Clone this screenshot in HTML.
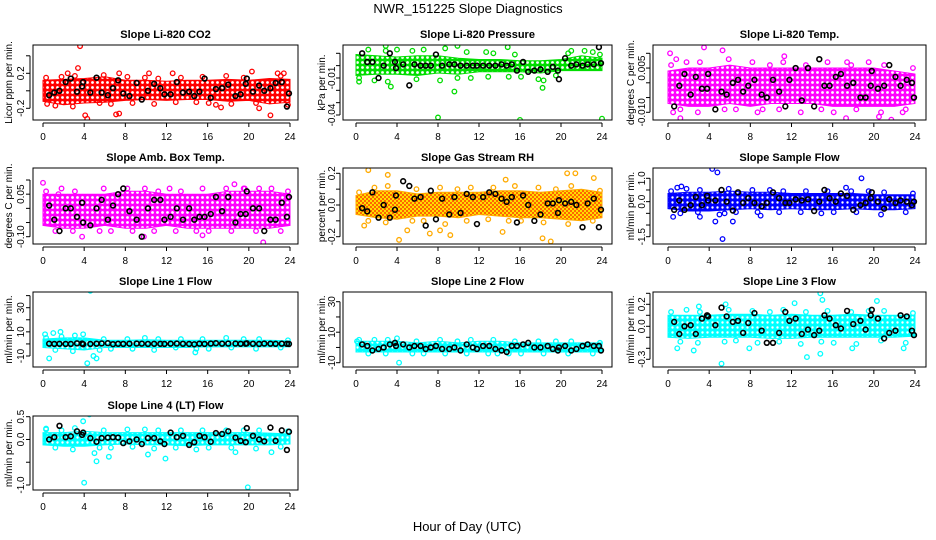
<!DOCTYPE html>
<html><head><meta charset="utf-8"><title>NWR_151225 Slope Diagnostics</title>
<style>
html,body{margin:0;padding:0;background:#fff;}
svg{display:block;font-family:"Liberation Sans",Arial,sans-serif;}
</style></head>
<body>
<svg id="chart" width="936" height="540" viewBox="0 0 936 540" xmlns="http://www.w3.org/2000/svg">
<defs>
<pattern id="pat-red" width="5" height="5" patternUnits="userSpaceOnUse"><rect width="5" height="5" fill="#ff0000"/><circle cx="2.5" cy="2.5" r="1.4" fill="#fff"/></pattern>
<pattern id="pat-green" width="5" height="5" patternUnits="userSpaceOnUse"><rect width="5" height="5" fill="#00dd00"/><circle cx="2.5" cy="2.5" r="1.4" fill="#fff"/></pattern>
<pattern id="pat-magenta" width="5" height="5" patternUnits="userSpaceOnUse"><rect width="5" height="5" fill="#ff00ff"/><circle cx="2.5" cy="2.5" r="1.4" fill="#fff"/></pattern>
<pattern id="pat-orange" width="4" height="4" patternUnits="userSpaceOnUse"><rect width="4" height="4" fill="#ffdd00"/><rect x="0" y="0" width="2" height="2" fill="#ff6600"/><rect x="2" y="2" width="2" height="2" fill="#ff6600"/></pattern>
<pattern id="pat-blue" width="5" height="5" patternUnits="userSpaceOnUse"><rect width="5" height="5" fill="#0000ff"/><circle cx="2.5" cy="2.5" r="1.2" fill="#fff"/></pattern>
<pattern id="pat-cyan" width="5" height="5" patternUnits="userSpaceOnUse"><rect width="5" height="5" fill="#00ffff"/><circle cx="2.5" cy="2.5" r="1.2" fill="#fff"/></pattern>
</defs>
<text x="468" y="13" text-anchor="middle" font-size="13">NWR_151225  Slope Diagnostics</text>
<text x="467" y="531" text-anchor="middle" font-size="13">Hour of Day (UTC)</text>
</svg>
<script>
// shared
const xTicks = [0,4,8,12,16,20,24];
const bandHours = [0,2,4,6,8,10,12,14,16,18,20,22,24];
const edgeHours = [0.3,1.2,1.8,2.9,3.1,5.5,5.9,6.6,8.2,8.7,9.9,10.8,11.2,12.9,13.4,14.9,15.5,16.1,17.8,18.3,19.5,20.7,21.0,23.1,23.8];
const blackHours = [0.6,1.1,1.6,2.2,2.7,3.3,3.8,3.9,4.6,5.2,5.7,6.3,6.8,7.3,7.8,8.4,9.1,9.6,10.2,10.8,11.4,11.8,12.4,13.0,13.6,14.2,14.7,15.2,15.7,16.3,16.8,17.4,18.0,18.7,19.2,19.7,19.8,20.4,21.0,21.5,22.1,22.6,23.2,23.7,23.9];

// P1 CO2
const p1Lo = [-0.12,-0.16,-0.14,-0.13,-0.11,-0.1,-0.11,-0.1,-0.1,-0.12,-0.11,-0.15,-0.13];
const p1Hi = [0.12,0.13,0.14,0.16,0.12,0.12,0.11,0.12,0.12,0.13,0.12,0.14,0.13];
const p1Edge = [0.15,-0.17,0.16,-0.18,0.17,-0.14,0.18,-0.15,0.16,-0.14,0.15,-0.15,0.14,-0.13,0.15,-0.13,0.16,-0.14,0.17,-0.15,0.15,-0.14,-0.2,0.17,-0.16];
const p1OutX = [3.6,3.4,4.1,4.3,7.1,7.4,7.4,0.4,12.6,16.8,17.3,20.3,22.1,23.4,2.4,10.3,22.8];
const p1OutY = [0.51,0.26,-0.28,-0.32,-0.27,-0.26,0.2,-0.15,0.2,-0.16,-0.19,0.22,-0.28,0.2,0.2,0.2,0.2];
const p1Black = [-0.05,-0.02,0.0,0.1,0.14,-0.01,0.05,0.1,-0.02,0.15,-0.02,-0.05,0.03,0.12,-0.03,-0.06,0.09,-0.1,0.0,0.08,0.03,-0.04,-0.04,0.1,-0.02,-0.01,-0.06,-0.01,0.14,-0.08,0.02,0.03,0.07,-0.06,-0.04,0.08,0.14,-0.01,0.06,0.0,0.03,0.09,0.1,-0.18,-0.03];
// P2 Pressure
const p2Lo = [-0.008,-0.007,-0.007,-0.008,-0.006,-0.007,-0.005,-0.005,-0.005,-0.006,-0.004,-0.004,-0.004];
const p2Hi = [0.009,0.008,0.007,0.008,0.008,0.006,0.005,0.005,0.004,0.004,0.005,0.008,0.006];
const p2Edge = [-0.01,0.013,-0.012,0.012,-0.013,0.012,-0.011,0.013,-0.012,0.014,-0.01,0.011,-0.01,-0.009,0.01,-0.009,0.009,-0.009,-0.011,-0.012,-0.008,0.01,0.012,0.011,0.009];
const p2OutX = [8,16,24,9.6,2.9,9.9,14.8,3.4,18.2,4.0,0.3,12.7,22.3];
const p2OutY = [-0.042,-0.044,-0.043,-0.021,0.016,0.016,0.015,-0.017,-0.018,0.013,-0.013,0.011,0.012];
const p2Black = [0.01,0.003,0.003,-0.01,0.0,0.01,0.003,-0.002,0.001,-0.016,0.001,0.0,0.0,0.0,0.009,0.0,0.001,0.001,0.0,0.0,0.0,0.0,0.0,0.0,0.0,0.001,0.0,0.001,-0.004,0.003,-0.005,-0.004,-0.003,-0.005,-0.001,-0.004,-0.011,0.006,0.0,0.001,0.0,0.001,0.001,0.015,0.002];
// P3 Li-820 Temp
const p3Lo = [-0.007,-0.008,-0.008,-0.007,-0.008,-0.007,-0.007,-0.007,-0.008,-0.008,-0.008,-0.008,-0.007];
const p3Hi = [0.004,0.005,0.005,0.006,0.005,0.005,0.005,0.005,0.005,0.005,0.005,0.004,0.003];
const p3Edge = [0.006,-0.009,0.007,-0.01,0.007,-0.009,0.008,-0.009,0.007,-0.01,0.006,-0.009,0.007,-0.01,0.006,-0.009,0.007,-0.01,0.006,-0.009,0.007,-0.01,0.006,-0.009,0.005];
const p3OutX = [0.2,3.5,5.3,0.5,1.2,17.3,20.5,21.7,11.3,17.4,22.8,0.8,9.2];
const p3OutY = [0.01,0.012,0.011,-0.01,-0.012,-0.012,-0.0115,-0.0125,0.009,0.007,-0.01,0.008,-0.009];
const p3Black = [-0.008,-0.001,0.003,-0.004,0.002,-0.002,-0.002,0.003,-0.009,-0.003,-0.004,0.0,0.001,-0.003,-0.001,0.001,-0.004,-0.005,0.001,-0.003,-0.008,0.001,0.005,-0.006,0.005,-0.008,0.008,-0.001,-0.001,0.002,0.003,-0.001,0.0,-0.005,-0.005,-0.001,0.004,-0.002,-0.001,0.006,0.002,-0.001,0.001,0.0,-0.005];
// P4 Amb box temp
const p4Lo = [-0.06,-0.07,-0.07,-0.06,-0.07,-0.07,-0.06,-0.07,-0.07,-0.07,-0.07,-0.07,-0.06];
const p4Hi = [0.05,0.05,0.05,0.05,0.06,0.06,0.05,0.05,0.05,0.06,0.06,0.06,0.05];
const p4Edge = [0.06,-0.08,0.07,-0.08,0.06,-0.08,0.07,-0.08,0.07,-0.08,0.07,-0.08,0.06,-0.08,0.06,-0.08,0.07,-0.08,0.07,-0.08,0.07,-0.08,0.07,-0.08,0.06];
const p4OutX = [0,1.5,18.6,21.4,3.8,12.3,22.2,9.8,15.5,19.6];
const p4OutY = [0.09,0.05,0.085,-0.12,-0.1,0.07,0.07,-0.1,-0.095,0.07];
const p4Black = [0.01,-0.04,-0.08,0.0,0.0,-0.03,0.02,-0.05,-0.06,0.0,0.03,-0.04,0.01,0.05,0.07,-0.01,-0.04,-0.1,0.0,0.03,0.03,-0.04,-0.03,0.0,-0.04,0.0,-0.04,-0.03,-0.03,-0.02,0.04,-0.01,0.04,-0.05,-0.02,-0.02,0.06,0.0,0.0,-0.08,-0.04,-0.04,0.02,-0.03,0.04];
// P5 Gas stream RH
const p5Lo = [-0.06,-0.08,-0.09,-0.07,-0.07,-0.08,-0.06,-0.07,-0.08,-0.08,-0.09,-0.1,-0.08];
const p5Hi = [0.06,0.09,0.09,0.07,0.08,0.08,0.08,0.09,0.09,0.08,0.09,0.1,0.08];
const p5Edge = [0.08,-0.1,0.11,-0.11,0.12,-0.1,0.1,-0.1,0.11,-0.12,0.1,-0.1,0.11,-0.09,0.11,-0.1,0.12,-0.1,0.11,-0.11,0.1,-0.12,0.12,-0.1,0.09];
const p5OutX = [1.2,3.1,4.2,5.0,7.2,9.2,8.2,14.3,18.2,19.0,20.6,21.4,23.2,14.6,0.8];
const p5OutY = [0.22,0.19,-0.22,-0.16,-0.18,-0.19,-0.16,-0.17,-0.21,-0.23,0.2,0.2,0.17,0.16,-0.13];
const p5Black = [-0.02,-0.04,0.08,-0.08,0.0,-0.08,-0.03,0.06,0.15,0.12,0.04,0.05,-0.13,0.09,-0.09,0.04,-0.06,0.05,-0.05,0.07,0.05,-0.12,0.05,0.08,0.07,0.04,0.02,0.05,-0.11,0.06,0.0,-0.1,-0.06,0.01,0.01,-0.05,0.03,0.01,0.02,0.0,-0.14,0.01,0.04,-0.14,-0.03];
// P6 Sample flow
const p6Lo = [-0.3,-0.4,-0.4,-0.35,-0.3,-0.35,-0.3,-0.35,-0.35,-0.3,-0.35,-0.35,-0.3];
const p6Hi = [0.35,0.4,0.4,0.45,0.4,0.4,0.35,0.35,0.35,0.35,0.3,0.3,0.3];
const p6Edge = [0.45,-0.5,0.55,-0.45,0.5,-0.5,0.55,-0.45,0.5,-0.45,0.5,-0.45,0.45,-0.45,0.45,-0.5,0.45,-0.45,0.45,-0.45,0.45,-0.55,0.4,-0.45,0.35];
const p6OutX = [4.3,4.8,5.3,18.8,0.5,4.6,6.3,3.1,17.3,1.3,9.0,5.0,0.9];
const p6OutY = [1.4,1.25,-1.6,1.0,-0.65,-0.85,-0.85,-0.65,0.6,0.65,-0.6,-0.55,0.6];
const p6Black = [-0.35,0.05,-0.35,-0.15,0.2,-0.15,0.25,0.05,0.05,0.5,0.0,-0.38,0.4,-0.05,0.15,-0.05,-0.2,-0.05,0.4,0.15,-0.05,-0.05,0.1,0.05,0.1,-0.4,0.0,0.5,0.15,0.0,0.35,0.25,-0.35,-0.15,-0.05,0.15,0.4,0.0,-0.3,0.1,-0.05,0.05,0.0,-0.15,0.0];
// P7 Line 1 flow
const p7Lo = [-3,-4,-5,-3,-3,-3,-3,-3,-2.5,-2.5,-2.5,-2.5,-2.5];
const p7Hi = [4,5,5,3,3,3.5,3,3,3,3,3,3,2.5];
const p7Edge = [5,-5,6,-6,7,-5,4,-4,4,-4,5,-5,4,-3,4,-4,4,-4,5,-3,4,-4,4,-3,3];
const p7OutX = [4.6,0.6,4.3,5.2,1.7,4.9,14.8,0.2,1.0,3.9];
const p7OutY = [44,-12,-16,-12,10,-10,-7,8,9,8];
const p7Black = [0.2,0.0,0.1,0.0,0.0,0.5,0.3,-0.3,0.0,0.2,0.4,0.6,-0.2,0.1,0.0,0.2,0.3,0.2,0.0,0.1,0.1,0.0,0.2,0.3,0.1,0.0,-0.3,0.2,0.0,0.3,0.6,0.2,0.3,0.3,0.1,0.2,0.5,0.1,0.0,0.3,0.2,0.1,0.2,0.1,0.0];
// P8 Line 2 flow
const p8Lo = [-3,-3,-3,-3,-3,-3,-3,-3,-3,-3,-3,-3,-3];
const p8Hi = [4,4,4,3,4,3,4,4,3,3,3,3,3];
const p8Edge = [5,-4,5,-4,5,-4,4,-4,5,-4,4,-4,5,-4,5,-4,4,-4,4,-4,4,-4,4,-4,3];
const p8OutX = [4.6,4.2,4.0,13.8,0.1];
const p8OutY = [38,-10,6,-4,4];
const p8Black = [2,1,-2,-1,0,2,3,1,2,0,1,1,-1,0,1,-1,-1,0,-2,2,0,-1,1,1,-1,-2,-3,1,1,2,3,0,0,1,-1,-2,0,1,-2,-1,1,2,1,1,-2];
// P9 Line 3 flow
const p9Lo = [-0.1,-0.11,-0.1,-0.1,-0.1,-0.11,-0.11,-0.1,-0.1,-0.1,-0.1,-0.1,-0.09];
const p9Hi = [0.1,0.1,0.1,0.11,0.11,0.1,0.11,0.1,0.1,0.11,0.1,0.1,0.1];
const p9Edge = [0.13,-0.14,0.15,-0.15,0.13,-0.14,0.15,-0.13,0.14,-0.15,0.13,-0.14,0.15,-0.16,0.13,-0.14,0.14,-0.15,0.13,-0.16,0.14,-0.13,0.14,-0.15,0.12];
const p9OutX = [5.2,14.8,15,2.5,13.5,20.3,14.8,22.9,7.9,0.9,5.6,3.0,12.3,17.9];
const p9OutY = [-0.34,0.3,0.24,-0.22,-0.28,0.23,-0.25,-0.2,-0.2,-0.2,0.2,0.18,0.21,-0.2];
const p9Black = [0.04,-0.07,0.0,0.01,-0.07,0.07,0.1,0.09,0.01,0.17,0.09,0.04,0.05,-0.06,0.03,0.12,-0.04,-0.15,-0.15,-0.06,0.13,0.05,0.07,-0.07,-0.03,-0.08,-0.04,0.1,0.07,0.01,-0.02,0.14,0.02,0.05,-0.03,0.1,0.15,0.07,-0.11,-0.06,-0.04,0.1,0.09,-0.04,-0.08];
// P10 Line 4 flow
const p10Lo = [-0.12,-0.15,-0.15,-0.12,-0.1,-0.12,-0.12,-0.14,-0.12,-0.12,-0.12,-0.12,-0.1];
const p10Hi = [0.15,0.15,0.18,0.15,0.15,0.15,0.15,0.15,0.15,0.15,0.15,0.14,0.12];
const p10Edge = [0.22,-0.18,0.2,-0.22,0.25,-0.18,0.2,-0.18,0.22,-0.16,0.22,-0.2,0.2,-0.18,0.2,-0.22,0.2,-0.18,0.2,-0.18,0.2,-0.2,0.2,-0.16,0.18];
const p10OutX = [4.5,4.0,19.9,5.2,6.4,3.9,11.9,10.2,22.2,18.7,5.0,0.3];
const p10OutY = [0.55,-0.95,-1.05,-0.48,-0.38,0.4,-0.42,-0.33,-0.28,-0.28,-0.3,0.24];
const p10Black = [0.0,0.05,0.3,0.05,0.07,0.18,0.1,0.15,0.03,-0.05,0.03,0.04,0.05,0.04,-0.08,-0.04,0.0,-0.1,0.03,0.03,-0.04,-0.1,0.15,0.05,0.08,-0.12,-0.06,0.08,0.05,-0.05,0.14,0.12,0.18,0.04,-0.03,-0.06,0.25,0.08,0.0,-0.04,0.26,-0.03,0.2,-0.23,0.17];

// y tick values and printed labels
const p1Ticks = [-0.2,0,0.2,0.4], p1Labels = {"-0.2":"-0.2","0.2":"0.2"};
const p2Ticks = [0.01,0,-0.01,-0.02,-0.03,-0.04], p2Labels = {"-0.01":"-0.01","-0.04":"-0.04"};
const p3Ticks = [0.01,0.005,0,-0.005,-0.01], p3Labels = {"0.005":"0.005","-0.01":"-0.010"};
const p4Ticks = [0.1,0.05,0,-0.05,-0.1], p4Labels = {"0.05":"0.05","-0.1":"-0.10"};
const p5Ticks = [0.2,0.1,0,-0.1,-0.2], p5Labels = {"0.2":"0.2","0":"0.0","-0.2":"-0.2"};
const p6Ticks = [1,0.5,0,-0.5,-1,-1.5], p6Labels = {"1":"1.0","0":"0.0","-1.5":"-1.5"};
const p7Ticks = [40,30,20,10,0,-10], p7Labels = {"30":"30","10":"10","-10":"-10"};
const p8Ticks = [30,20,10,0,-10], p8Labels = {"30":"30","10":"10","-10":"-10"};
const p9Ticks = [0.3,0.2,0.1,0,-0.1,-0.2,-0.3], p9Labels = {"0.2":"0.2","0":"0.0","-0.3":"-0.3"};
const p10Ticks = [0.5,0,-0.5,-1], p10Labels = {"0.5":"0.5","0":"0.0","-1":"-1.0"};

const NS = "http://www.w3.org/2000/svg";
const svg = document.getElementById('chart');
function mk(tag, attrs, parent){const e=document.createElementNS(NS,tag);for(const k in attrs)e.setAttribute(k,attrs[k]);(parent||svg).appendChild(e);return e;}

const cols = [{l:33,r:298,x0:43,x24:290,yl:9,tl:24},{l:343,r:612,x0:356,x24:602,yl:322,tl:335},{l:653,r:926,x0:668,x24:915,yl:631,tl:645}];
const rows = [{t:45,b:120},{t:168,b:244},{t:292,b:367},{t:416,b:490}];

const panels = [
 {id:'co2',title:'Slope Li-820 CO2',ylab:'Licor ppm per min.',c:0,r:0,ref:[0.2,73.3,-0.2,108.3],lo:p1Lo,hi:p1Hi,ed:p1Edge,ox:p1OutX,oy:p1OutY,bk:p1Black,ticks:p1Ticks,labels:p1Labels,col:'#ff0000',pat:'pat-red'},
 {id:'pressure',title:'Slope Li-820 Pressure',ylab:'kPa per min.',c:1,r:0,ref:[0.01,53.3,-0.04,115],lo:p2Lo,hi:p2Hi,ed:p2Edge,ox:p2OutX,oy:p2OutY,bk:p2Black,ticks:p2Ticks,labels:p2Labels,col:'#00dd00',pat:'pat-green'},
 {id:'li820-temp',title:'Slope Li-820 Temp.',ylab:'degrees C per min.',c:2,r:0,ref:[0.01,53.3,-0.01,112.3],lo:p3Lo,hi:p3Hi,ed:p3Edge,ox:p3OutX,oy:p3OutY,bk:p3Black,ticks:p3Ticks,labels:p3Labels,col:'#ff00ff',pat:'pat-magenta'},
 {id:'amb-box-temp',title:'Slope Amb. Box Temp.',ylab:'degrees C per min.',c:0,r:1,ref:[0.1,180,-0.1,236.7],lo:p4Lo,hi:p4Hi,ed:p4Edge,ox:p4OutX,oy:p4OutY,bk:p4Black,ticks:p4Ticks,labels:p4Labels,col:'#ff00ff',pat:'pat-magenta'},
 {id:'gas-stream-rh',title:'Slope Gas Stream RH',ylab:'percent per min.',c:1,r:1,ref:[0.2,173.3,-0.2,236.7],lo:p5Lo,hi:p5Hi,ed:p5Edge,ox:p5OutX,oy:p5OutY,bk:p5Black,ticks:p5Ticks,labels:p5Labels,col:'#ffaa00',pat:'pat-orange'},
 {id:'sample-flow',title:'Slope Sample Flow',ylab:'ml/min per min.',c:2,r:1,ref:[1.0,178.3,-1.5,236.7],lo:p6Lo,hi:p6Hi,ed:p6Edge,ox:p6OutX,oy:p6OutY,bk:p6Black,ticks:p6Ticks,labels:p6Labels,col:'#0000ff',pat:'pat-blue'},
 {id:'line1-flow',title:'Slope Line 1 Flow',ylab:'ml/min per min.',c:0,r:2,ref:[30,307.7,-10,356],lo:p7Lo,hi:p7Hi,ed:p7Edge,ox:p7OutX,oy:p7OutY,bk:p7Black,ticks:p7Ticks,labels:p7Labels,col:'#00ffff',pat:'pat-cyan'},
 {id:'line2-flow',title:'Slope Line 2 Flow',ylab:'ml/min per min.',c:1,r:2,ref:[30,301.7,-10,362.7],lo:p8Lo,hi:p8Hi,ed:p8Edge,ox:p8OutX,oy:p8OutY,bk:p8Black,ticks:p8Ticks,labels:p8Labels,col:'#00ffff',pat:'pat-cyan'},
 {id:'line3-flow',title:'Slope Line 3 Flow',ylab:'ml/min per min.',c:2,r:2,ref:[0.2,304.3,-0.3,359.3],lo:p9Lo,hi:p9Hi,ed:p9Edge,ox:p9OutX,oy:p9OutY,bk:p9Black,ticks:p9Ticks,labels:p9Labels,col:'#00ffff',pat:'pat-cyan'},
 {id:'line4-flow',title:'Slope Line 4 (LT) Flow',ylab:'ml/min per min.',c:0,r:3,ref:[0.5,416.7,-1.0,485],lo:p10Lo,hi:p10Hi,ed:p10Edge,ox:p10OutX,oy:p10OutY,bk:p10Black,ticks:p10Ticks,labels:p10Labels,col:'#00ffff',pat:'pat-cyan'}
];

panels.forEach(p=>{
  const C=cols[p.c], R=rows[p.r];
  const xs = h => C.x0 + (C.x24-C.x0)*h/24;
  const ys = v => p.ref[1] + (v-p.ref[0])*(p.ref[3]-p.ref[1])/(p.ref[2]-p.ref[0]);
  const g = mk('g',{});
  
  
  const cp = mk('clipPath',{id:'clip-'+p.id},g);
  mk('rect',{x:C.l,y:R.t,width:C.r-C.l,height:R.b-R.t},cp);
  const plot = mk('g',{'clip-path':'url(#clip-'+p.id+')'},g);
  let pts=[];
  bandHours.forEach((h,i)=>pts.push(xs(h).toFixed(1)+','+ys(p.hi[i]).toFixed(1)));
  for(let i=bandHours.length-1;i>=0;i--) pts.push(xs(bandHours[i]).toFixed(1)+','+ys(p.lo[i]).toFixed(1));
  const band = mk('polygon',{points:pts.join(' '),fill:'url(#'+p.pat+')',stroke:p.col,'stroke-width':1},plot);
  
  
  p.ed.forEach((v,i)=>{
    const c = mk('circle',{cx:xs(edgeHours[i]),cy:ys(v),r:2.3,fill:'none',stroke:p.col,'stroke-width':1.3},plot);
    
    
  });
  p.ox.forEach((h,i)=>{
    const c = mk('circle',{cx:xs(h),cy:ys(p.oy[i]),r:2.3,fill:'none',stroke:p.col,'stroke-width':1.3},plot);
    
    
  });
  p.bk.forEach((v,i)=>{
    const c = mk('circle',{cx:xs(blackHours[i]),cy:ys(v),r:2.4,fill:'none',stroke:'#000','stroke-width':1.6},plot);
    
    
  });
  const box = mk('rect',{x:C.l,y:R.t,width:C.r-C.l,height:R.b-R.t,fill:'none',stroke:'#000','stroke-width':1},g);
  
  
  mk('line',{x1:xs(0),x2:xs(24),y1:R.b+3,y2:R.b+3,stroke:'#000'},g);
  xTicks.forEach(t=>{
    mk('line',{x1:xs(t),x2:xs(t),y1:R.b+3,y2:R.b+7,stroke:'#000'},g);
    const tl = mk('text',{x:xs(t),y:R.b+20,'text-anchor':'middle','font-size':10},g);
    tl.textContent=t;
    
    
  });
  const yv = p.ticks.map(ys);
  mk('line',{x1:C.l-3,x2:C.l-3,y1:Math.min(...yv),y2:Math.max(...yv),stroke:'#000'},g);
  p.ticks.forEach(t=>{
    mk('line',{x1:C.l-7,x2:C.l-3,y1:ys(t),y2:ys(t),stroke:'#000'},g);
    const key=String(t);
    if(p.labels[key]!==undefined){
      const yl = mk('text',{x:C.tl,y:ys(t),'text-anchor':'middle','font-size':10,transform:'rotate(-90 '+C.tl+' '+ys(t)+')'},g);
      yl.textContent=p.labels[key];
      
      
    }
  });
  const cy=(R.t+R.b)/2;
  const yt = mk('text',{x:C.yl,y:cy,'text-anchor':'middle','font-size':10,transform:'rotate(-90 '+(C.yl)+' '+cy+') translate(0 3)'},g);
  yt.textContent=p.ylab;
  
  
  const ti = mk('text',{x:(C.l+C.r)/2,y:R.t-7,'text-anchor':'middle','font-size':11,'font-weight':'bold'},g);
  ti.textContent=p.title;
  
  
});
</script>
</body></html>
